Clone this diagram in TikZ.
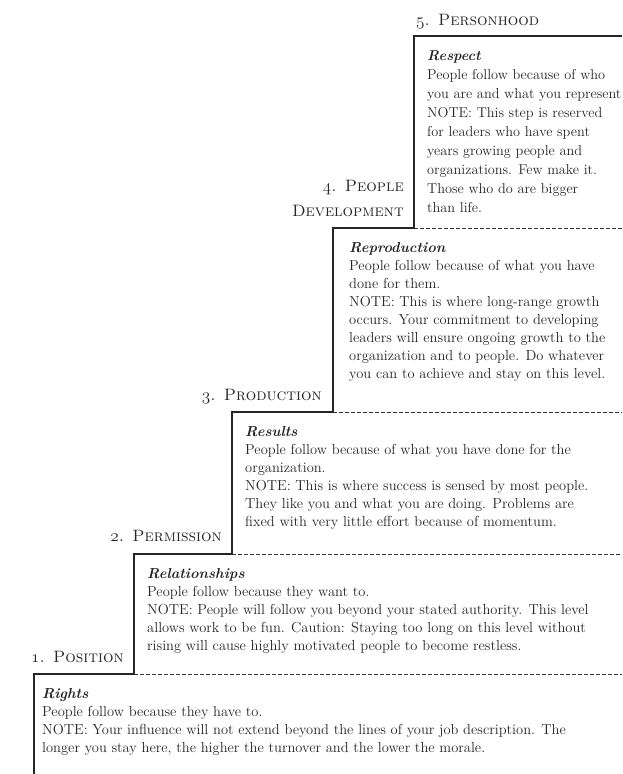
\documentclass[tikz,border=0pt]{standalone}
\usepackage{fontspec}
\newcommand{\osn}[1]{{\usefont{OML}{cmm}{m}{it}#1}}
\begin{document}
\begin{tikzpicture}[x=1pt,y=-1pt]
\tikzset{
  stair/.style={line width=1.2pt, draw=black!85},
  dashline/.style={line width=0.9pt, draw=black!80, dash pattern=on 4pt off 2pt},
  body/.style={anchor=north west, inner sep=0pt, align=left, font=\fontsize{14.5}{18}\selectfont, text=black!85},
  lab/.style={inner sep=0pt, font=\fontsize{16.5}{25}\selectfont\scshape, text=black!85},
}
\useasboundingbox[fill=white] (0,0) rectangle (622,774);
% staircase corners
\coordinate (c1b) at (34,774);
\coordinate (c1) at (34,674);
\coordinate (c2) at (134,674);
\coordinate (c2t) at (134,554);
\coordinate (c3) at (232,554);
\coordinate (c3t) at (232,412);
\coordinate (c4) at (333,412);
\coordinate (c4t) at (333,228);
\coordinate (c5) at (414,228);
\coordinate (c5t) at (414,36);
\coordinate (e5) at (622,36);
\coordinate (e4) at (622,228);
\coordinate (e3) at (622,412);
\coordinate (e2) at (622,554);
\coordinate (e1) at (622,674);
\draw[stair] (c1b) -- (c1) -- (c2) -- (c2t) -- (c3) -- (c3t) -- (c4) -- (c4t) -- (c5) -- (c5t) -- (e5);
\draw[dashline] (c5) -- (e4);
\draw[dashline] (c4) -- (e3);
\draw[dashline] (c3) -- (e2);
\draw[dashline] (c2) -- (e1);
% labels
\node[lab, anchor=base west] (l5) at (416,25) {\osn{5}. Personhood};
\node[lab, anchor=base east, align=right] (l4a) at (404,191) {\osn{4}. People};
\node[lab, anchor=base east, align=right] (l4b) at (404,216) {Development};
\node[lab, anchor=base east] (l3) at (322,400) {\osn{3}. Production};
\node[lab, anchor=base east] (l2) at (222,541) {\osn{2}. Permission};
\node[lab, anchor=base east] (l1) at (124,662) {\osn{1}. Position};
% texts
\node[body, font=\fontsize{14.3}{19}\selectfont] (t5) at (427,50) {\textbf{\textit{Respect}}\\
People follow because of who\\
you are and what you represent\\
NOTE: This step is reserved\\
for leaders who have spent\\
years growing people and\\
organizations. Few make it.\\
Those who do are bigger\\
than life.};
\node[body] (t4) at (349,242) {\textbf{\textit{Reproduction}}\\
People follow because of what you have\\
done for them.\\
NOTE: This is where long-range growth\\
occurs. Your commitment to developing\\
leaders will ensure ongoing growth to the\\
organization and to people. Do whatever\\
you can to achieve and stay on this level.};
\node[body] (t3) at (245,426) {\textbf{\textit{Results}}\\
People follow because of what you have done for the\\
organization.\\
NOTE: This is where success is sensed by most people.\\
They like you and what you are doing. Problems are\\
fixed with very little effort because of momentum.};
\node[body] (t2) at (147,568) {\textbf{\textit{Relationships}}\\
People follow because they want to.\\
NOTE: People will follow you beyond your stated authority. This level\\
allows work to be fun. Caution: Staying too long on this level without\\
rising will cause highly motivated people to become restless.};
\node[body] (t1) at (42,688) {\textbf{\textit{Rights}}\\
People follow because they have to.\\
NOTE: Your influence will not extend beyond the lines of your job description. The\\
longer you stay here, the higher the turnover and the lower the morale.};
\end{tikzpicture}
\end{document}
